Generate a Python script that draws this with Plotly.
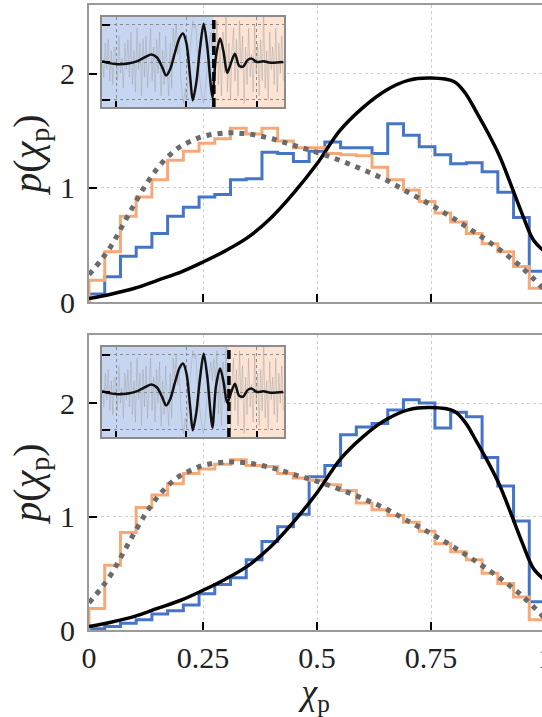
import numpy as np
import plotly.graph_objects as go

W, H = 542, 717

# ---- chi_p distributions: 29 equal-width bins on [0, 1] ----
N_BINS = 29
bin_edges = np.linspace(0.0, 1.0, N_BINS + 1)

top_blue = [0.07, 0.22, 0.40, 0.48, 0.60, 0.75, 0.83, 0.92, 0.94, 1.07,
            1.08, 1.31, 1.30, 1.23, 1.32, 1.40, 1.35, 1.35, 1.30, 1.56,
            1.46, 1.36, 1.29, 1.21, 1.22, 1.14, 0.96, 0.74, 0.27]
top_orange = [0.19, 0.44, 0.75, 0.92, 1.07, 1.24, 1.32, 1.39, 1.43, 1.52,
              1.47, 1.52, 1.41, 1.35, 1.35, 1.30, 1.29, 1.28, 1.18, 1.07,
              0.98, 0.88, 0.78, 0.70, 0.60, 0.51, 0.44, 0.31, 0.12]
bot_blue = [0.01, 0.03, 0.06, 0.09, 0.14, 0.17, 0.22, 0.32, 0.40, 0.46,
            0.62, 0.78, 0.91, 1.02, 1.35, 1.45, 1.72, 1.79, 1.82, 1.94,
            2.03, 2.00, 1.78, 1.92, 1.88, 1.52, 1.27, 0.96, 0.25]
bot_orange = [0.19, 0.57, 0.86, 1.08, 1.19, 1.29, 1.38, 1.42, 1.46, 1.50,
              1.45, 1.44, 1.38, 1.34, 1.32, 1.28, 1.23, 1.12, 1.06, 1.01,
              0.95, 0.87, 0.76, 0.69, 0.62, 0.50, 0.41, 0.29, 0.09]

# prior (dotted) and injected (solid) densities
prior_x = [0, 0.025, 0.05, 0.075, 0.1, 0.125, 0.15, 0.175, 0.2, 0.225, 0.25,
           0.3, 0.35, 0.4, 0.45, 0.5, 0.55, 0.6, 0.65, 0.7, 0.75, 0.8, 0.85,
           0.9, 0.95, 1.0]
prior_y = [0.24, 0.36, 0.50, 0.68, 0.86, 1.03, 1.17, 1.28, 1.36, 1.41, 1.45,
           1.48, 1.47, 1.43, 1.37, 1.31, 1.24, 1.16, 1.07, 0.96, 0.85, 0.73,
           0.60, 0.46, 0.30, 0.10]
truth_x = [0, 0.05, 0.1, 0.15, 0.2, 0.25, 0.3, 0.35, 0.4, 0.45, 0.5, 0.55,
           0.6, 0.65, 0.7, 0.75, 0.8, 0.825, 0.85, 0.875, 0.9, 0.925, 0.95,
           0.975, 1.0]
truth_y = [0.03, 0.07, 0.12, 0.19, 0.26, 0.35, 0.45, 0.57, 0.74, 0.96, 1.21,
           1.50, 1.70, 1.85, 1.94, 1.96, 1.93, 1.83, 1.66, 1.48, 1.28, 1.03,
           0.77, 0.54, 0.44]

# ---- inset: whitened strain and waveform ----
wave_t = [-0.20, -0.10, 0.02, 0.17, 0.31, 0.42, 0.50, 0.58, 0.65, 0.71,
          0.77, 0.84, 0.90, 0.95, 1.00, 1.05, 1.09, 1.14, 1.19, 1.245,
          1.30, 1.34, 1.37, 1.42, 1.48, 1.53, 1.58, 1.63, 1.69, 1.75,
          1.81, 1.87, 1.93, 2.00, 2.10, 2.20, 2.38]
wave_h = [0.02, -0.03, -0.06, -0.04, 0.03, 0.14, 0.20, 0.12, -0.12, -0.36,
          -0.18, 0.28, 0.64, 0.76, 0.50, -0.35, -1.02, -0.55, 0.32, 1.02,
          0.35, -0.50, -0.95, 0.15, 0.63, 0.25, -0.29, -0.05, 0.22, -0.10,
          -0.12, 0.05, 0.09, 0.00, 0.02, -0.02, 0.00]
strain = [0.1, -0.4, 0.5, -0.2, 0.6, -0.5, 0.3, -0.6, 0.4, 0.2, -0.5, 0.7,
          -0.3, 0.1, -0.7, 0.5, -0.2, 0.6, -0.4,
          0.8, -0.6, 0.3, -0.8, 0.9, -0.2, 0.5, -0.9, 0.6, -0.4, 0.7, -0.7,
          0.2, 0.9, -0.5, 0.4, -0.8, 0.6, -0.3, 0.8, -0.9, 0.3, -0.6, 0.7,
          -0.2, -0.9, 0.5, -0.7,
          0.9, 0.4, 1.0, 0.2, 0.6, -0.4, -0.9, -1.1, -0.7, -1.0, -0.2, 0.3,
          0.8, 1.1, 0.9, 1.0, 0.3, -0.2, -0.6, -0.9, -1.1, -0.8, -0.4, 0.2,
          0.5, 0.8, 0.3, 0.9,
          0.2, 1.1, -0.6, 0.4, -0.9, 0.8, -0.3, 1.2, -0.8, 0.5, -1.0, 0.3,
          0.9, -0.5, 0.6, -0.9, 1.1, -0.2, 0.7, -1.1, 0.4, -0.6, 0.9, -0.4,
          0.2, -0.8, 1.0, -0.3, 0.5, -0.9, 0.6, -0.5, 1.2, -0.7, 0.3, -1.0,
          0.8, -0.2, 0.4, -0.6, 0.9, -0.8, 0.5, -0.3, 0.7, -0.5]
strain_t0, strain_t1 = -0.20, 2.38
strain_t = np.linspace(strain_t0, strain_t1, len(strain))
inset_xr = [-0.204, 2.39]
inset_yr = [-1.2, 1.2]
cut_times = [1.39, 1.605]   # top panel, bottom panel

x_ticks = [0, 0.25, 0.5, 0.75]
x_ticktext = ["0", "0.25", "0.5", "0.75"]
y_ticks = [0, 1, 2]

BLUE = "#4674c6"
ORANGE = "#f6a978"
PRIOR = "#6b6b6b"
FONT = "Liberation Serif, Times New Roman, serif"
FRAME = "#9a9a9a"


def px_x(p):
    return p / W


def px_y(p):
    return 1 - p / H


def step_xy(values):
    xs = [0.0] + list(bin_edges)
    ys = [0.0] + list(values) + [0.0]
    return xs, ys


fig = go.Figure()

panels = [("x", "y", top_blue, top_orange), ("x2", "y2", bot_blue, bot_orange)]
for xa, ya, blue, orange in panels:
    bx, by = step_xy(blue)
    fig.add_trace(go.Scatter(x=bx, y=by, xaxis=xa, yaxis=ya, mode="lines",
                             line=dict(color=BLUE, width=3, shape="hv"),
                             showlegend=False))
    ox, oy = step_xy(orange)
    fig.add_trace(go.Scatter(x=ox, y=oy, xaxis=xa, yaxis=ya, mode="lines",
                             line=dict(color=ORANGE, width=3, shape="hv"),
                             showlegend=False))
    fig.add_trace(go.Scatter(x=truth_x, y=truth_y, xaxis=xa, yaxis=ya,
                             mode="lines",
                             line=dict(color="black", width=3.5,
                                       shape="spline", smoothing=1.0),
                             showlegend=False))
    fig.add_trace(go.Scatter(x=prior_x, y=prior_y, xaxis=xa, yaxis=ya,
                             mode="lines",
                             line=dict(color=PRIOR, width=5, dash="5px,6px",
                                       shape="spline", smoothing=1.0),
                             showlegend=False))

# insets
for xa, ya in [("x3", "y3"), ("x4", "y4")]:
    fig.add_trace(go.Scatter(x=strain_t, y=strain, xaxis=xa, yaxis=ya,
                             mode="lines",
                             line=dict(color="rgba(160,160,160,0.45)", width=1),
                             showlegend=False))
    fig.add_trace(go.Scatter(x=wave_t, y=wave_h, xaxis=xa, yaxis=ya,
                             mode="lines",
                             line=dict(color="#111111", width=2.5,
                                       shape="spline", smoothing=0.8),
                             showlegend=False))

shapes = []
for (xa, ya), cut in zip([("x3", "y3"), ("x4", "y4")], cut_times):
    shapes.append(dict(type="rect", xref=xa, yref=ya, x0=inset_xr[0], x1=cut,
                       y0=inset_yr[0], y1=inset_yr[1], layer="below",
                       fillcolor="#c6d6f0", line=dict(width=0)))
    shapes.append(dict(type="rect", xref=xa, yref=ya, x0=cut, x1=inset_xr[1],
                       y0=inset_yr[0], y1=inset_yr[1], layer="below",
                       fillcolor="#fce3d4", line=dict(width=0)))
    shapes.append(dict(type="line", xref=xa, yref=ya, x0=cut, x1=cut,
                       y0=inset_yr[0], y1=inset_yr[1], layer="above",
                       line=dict(color="black", width=3.5, dash="9px,4px")))

tick_font = dict(family=FONT, size=30, color="#222222")
title_font = dict(family=FONT, size=36, color="#222222")
ytitle_font = dict(family=FONT, size=40, color="#222222")

main_x = dict(range=[0, 453 / 456], tickvals=x_ticks, ticktext=x_ticktext,
              ticks="inside", ticklen=8, tickwidth=2, tickcolor="black",
              showline=True, linecolor=FRAME, linewidth=2, mirror=True,
              showgrid=True, gridcolor="#cfcfcf", griddash="dot", gridwidth=1,
              zeroline=False, tickfont=tick_font, fixedrange=True,
              automargin=False)
main_y = dict(range=[0, 2.6], tickvals=y_ticks,
              ticks="inside", ticklen=8, tickwidth=2, tickcolor="black",
              showline=True, linecolor=FRAME, linewidth=2,
              showgrid=True, gridcolor="#cfcfcf", griddash="dot", gridwidth=1,
              zeroline=False, tickfont=tick_font, ticklabelstandoff=6,
              automargin=False,
              title=dict(text="<i>p</i>(<i>χ</i><sub>p</sub>)",
                         font=ytitle_font, standoff=6))

inset_x = dict(range=inset_xr, tickvals=[0, 1, 2], showticklabels=False,
               ticks="inside", ticklen=6, tickwidth=2, tickcolor="black",
               showline=True, linecolor="#8c8c8c", linewidth=2, mirror=True,
               showgrid=True, gridcolor="#8a8a8a", griddash="dot", gridwidth=1,
               zeroline=False, automargin=False)
inset_y = dict(range=inset_yr, tickvals=[-1, 0, 1], showticklabels=False,
               ticks="inside", ticklen=8, tickwidth=2, tickcolor="black",
               showline=True, linecolor="#8c8c8c", linewidth=2, mirror=True,
               showgrid=True, gridcolor="#8a8a8a", griddash="dot", gridwidth=1,
               zeroline=False, automargin=False)

x_dom = [px_x(89), 1.0]
fig.update_layout(
    width=W, height=H,
    margin=dict(l=0, r=0, t=0, b=0, autoexpand=False),
    paper_bgcolor="white", plot_bgcolor="white",
    showlegend=False,
    shapes=shapes,
    xaxis=dict(main_x, domain=x_dom, anchor="y", showticklabels=False),
    yaxis=dict(main_y, domain=[px_y(302), px_y(5)], anchor="x"),
    xaxis2=dict(main_x, domain=x_dom, anchor="y2",
                title=dict(text="<i>χ</i><sub>p</sub>", font=title_font,
                           standoff=6)),
    yaxis2=dict(main_y, domain=[px_y(630), px_y(335)], anchor="x2"),
    xaxis3=dict(inset_x, domain=[px_x(102), px_x(284)], anchor="y3"),
    yaxis3=dict(inset_y, domain=[px_y(107), px_y(17)], anchor="x3"),
    xaxis4=dict(inset_x, domain=[px_x(102), px_x(284)], anchor="y4"),
    yaxis4=dict(inset_y, domain=[px_y(437), px_y(347)], anchor="x4"),
    annotations=[dict(text="1", xref="paper", yref="paper",
                      x=px_x(89 + 456), y=px_y(657), xanchor="center",
                      yanchor="middle", showarrow=False, font=tick_font)],
)

fig.write_html("out.html")
